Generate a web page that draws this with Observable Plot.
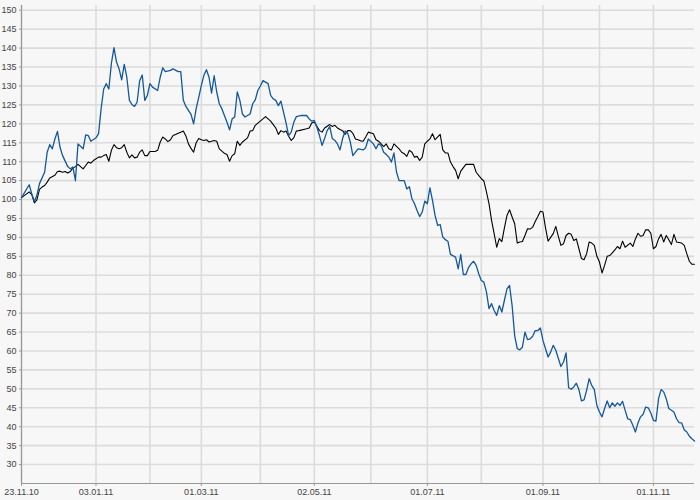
<!DOCTYPE html>
<html>
<head>
<meta charset="utf-8">
<script src="https://cdn.jsdelivr.net/npm/d3@7"></script>
<script src="https://cdn.jsdelivr.net/npm/@observablehq/plot@0.6"></script>
<style>
  html, body { margin: 0; padding: 0; background: #f7f7f7; }
  #chart svg { display: block; }
</style>
</head>
<body>
<div id="chart"></div>
<script>
// Trading-day index (weekdays since 23.11.10) and values
const blueDay = [0,3,4,5,6,7,9,10,11,12,13,14,15,16,18,19,20,21,22,24,25,26,27,29,30,31,32,33,34,35,36,37,38,39,40,41,42,43,44,45,46,47,48,49,50,51,53,54,55,56,58,59,61,62,63,64,66,67,68,69,70,71,72,73,74,75,76,77,78,80,81,82,83,84,85,86,87,89,90,91,92,93,94,96,97,98,99,100,101,102,103,104,105,106,107,109,111,112,113,114,115,116,117,118,119,120,121,122,123,124,125,126,127,128,129,131,133,134,135,137,138,139,140,141,142,143,144,145,146,147,149,150,151,152,153,154,155,156,157,158,159,160,161,162,163,164,165,166,167,169,170,171,172,173,174,175,176,177,178,179,180,181,182,183,184,185,186,187,188,189,190,191,192,193,194,195,196,197,198,199,200,201,202,203,204,205,206,207,208,209,210,211,212,213,214,215,216,217,218,219,220,221,222,223,224,225,226,227,228,229,230,231,232,233,234,235,236,237,238,239,240,241,242,243,244,245,246,247,248,249,250,251,252,254,255,256,257,258,259,260,261,262];
const blueVal = [100.5,103.9,101.5,99.5,101.1,104.2,107.2,112.5,114.5,113.4,116.0,118.0,113.8,111.6,108.7,108.1,108.6,105.0,114.7,113.4,117.1,116.9,115.4,116.3,117.4,124.0,129.2,130.6,129.2,136.0,140.1,136.3,134.5,131.6,135.7,132.3,126.2,125.1,124.6,125.7,131.4,132.9,126.2,127.5,130.6,129.7,128.8,132.3,134.8,133.8,134.1,134.5,133.8,133.8,126.2,124.6,122.5,120.0,124.0,127.0,130.1,132.8,134.3,132.3,128.1,132.7,128.4,125.3,124.0,120.4,118.4,121.3,121.8,128.4,126.2,122.6,121.8,122.6,125.3,126.3,128.8,130.0,131.4,130.6,127.5,126.6,126.2,124.8,126.0,123.1,120.2,116.9,117.8,120.4,121.9,122.2,122.2,121.3,120.7,120.9,119.1,116.9,114.3,116.1,118.2,119.3,116.1,115.6,114.7,113.1,116.1,118.1,117.5,115.2,111.6,113.4,113.1,113.7,116.0,114.7,113.4,114.7,114.3,112.5,111.9,111.2,109.9,112.3,107.2,105.0,105.0,102.8,103.4,100.2,98.9,97.1,95.5,96.7,99.6,98.9,103.1,99.8,95.8,93.2,93.4,90.1,89.4,89.0,85.5,84.8,81.7,85.5,80.2,80.2,82.0,83.0,83.7,82.6,80.4,78.6,78.2,75.6,71.2,72.5,70.7,69.4,72.0,70.3,73.4,76.4,77.3,72.0,64.0,60.6,60.3,61.0,65.0,63.0,63.2,63.9,65.4,65.4,66.1,62.8,60.6,58.4,59.7,61.5,60.2,58.0,55.9,57.1,59.5,50.3,49.9,50.5,51.5,49.8,46.8,47.1,49.6,52.7,50.9,49.8,45.6,43.9,42.6,44.8,46.8,45.0,46.3,45.4,46.3,45.6,46.7,44.3,42.1,41.9,40.4,38.6,41.0,42.6,43.3,45.2,45.0,43.6,41.7,41.5,47.4,49.8,49.2,47.4,44.8,43.9,42.1,41.1,41.0,39.2,38.6,37.5,36.8,36.2];

const blackDay = [0,2,3,4,5,6,7,8,9,10,11,13,14,15,16,17,18,19,20,21,22,23,24,25,26,27,28,30,31,32,33,34,35,36,37,38,39,40,41,42,43,44,45,46,47,48,49,50,52,53,54,55,56,57,58,59,60,61,62,63,64,65,66,67,68,69,70,71,72,73,75,76,77,79,80,81,82,83,84,85,86,88,89,90,91,92,94,95,96,97,98,99,100,101,102,103,104,105,106,107,108,111,112,113,114,116,117,118,120,121,122,123,124,125,126,127,128,129,130,131,132,133,134,135,137,138,139,140,141,142,143,144,145,147,148,149,150,151,152,153,154,155,156,157,158,159,160,161,163,164,165,166,167,168,169,170,171,173,176,177,179,180,181,182,183,184,185,186,187,188,189,190,191,192,193,194,195,196,197,198,199,200,201,202,203,204,205,206,207,208,209,210,211,212,213,214,215,216,217,218,219,220,221,222,223,224,225,226,227,228,229,230,231,232,233,234,235,237,238,239,240,241,242,243,244,245,246,247,248,249,250,251,252,253,254,255,257,258,259,260,261,262];
const blackVal = [100.5,101.5,102.0,101.3,99.1,99.9,102.7,103.3,103.7,104.6,105.7,106.4,107.4,107.5,107.2,107.4,107.0,107.4,108.3,108.7,109.3,108.7,108.1,109.0,109.9,109.6,110.3,111.2,111.2,111.6,111.9,110.1,113.0,114.5,113.7,113.4,113.7,114.5,112.5,111.0,111.8,111.0,111.2,112.5,113.1,111.6,111.6,112.7,112.7,113.0,115.2,116.5,116.0,115.3,115.8,116.9,117.2,117.5,117.8,118.1,116.8,114.7,113.5,112.5,115.0,116.1,115.8,115.6,115.8,115.2,115.6,115.4,113.4,112.2,111.9,110.1,111.6,112.1,115.4,114.3,115.2,116.3,118.1,118.2,119.6,120.2,121.3,121.9,121.3,120.7,119.8,118.9,117.2,118.2,117.8,118.1,116.7,115.6,116.3,118.1,118.2,118.7,118.9,120.2,120.5,118.2,117.8,118.9,119.8,119.3,119.6,118.9,118.5,118.2,117.2,118.2,118.2,117.5,116.0,115.8,115.5,115.4,116.5,117.8,117.4,115.8,115.4,114.7,114.0,114.7,113.4,113.1,114.7,113.4,112.5,112.1,111.4,113.0,112.5,111.2,111.4,110.3,111.2,114.7,115.4,116.0,117.4,115.8,117.2,113.1,112.3,112.3,109.9,108.7,107.7,105.5,107.5,109.3,109.3,107.2,105.5,104.9,102.0,98.9,94.5,91.0,87.4,89.7,88.9,92.5,95.8,97.3,95.4,93.6,88.5,88.8,88.9,90.5,92.3,92.2,92.7,94.2,95.5,96.9,96.7,92.5,89.0,90.0,91.0,92.9,90.3,87.9,88.3,90.5,91.1,90.8,89.2,89.6,87.0,84.4,84.1,85.7,88.8,88.5,87.9,85.0,83.5,80.6,82.6,85.0,85.2,85.9,86.7,87.6,87.0,89.0,87.4,88.5,87.6,89.6,91.1,90.3,90.5,92.0,92.0,91.1,87.0,87.6,89.6,90.8,88.8,90.5,89.4,88.1,90.8,88.8,88.5,87.9,85.7,83.7,82.9,82.9];

const yTicks = [30,35,40,45,50,55,60,65,70,75,80,85,90,95,100,105,110,115,120,125,130,135,140,145,150];
const monthDays = [0,29,50,70,93,114,136,158,179,203,225,246];
const tickDays = [0,29,70,114,158,203,246];
const tickLabels = ["23.11.10","03.01.11","01.03.11","02.05.11","01.07.11","01.09.11","01.11.11"];

const blue = blueDay.map((d, i) => ({day: d, value: blueVal[i]}));
const black = blackDay.map((d, i) => ({day: d, value: blackVal[i]}));

const chart = Plot.plot({
  width: 700,
  height: 500,
  marginLeft: 21,
  marginRight: 6,
  marginTop: 5,
  marginBottom: 17,
  style: {background: "#f7f7f7", fontFamily: "'Liberation Sans', Arial, sans-serif", fontSize: "9px", color: "#444"},
  x: {type: "linear", domain: [0, 262]},
  y: {domain: [25, 151.25]},
  marks: [
    Plot.gridY(yTicks, {stroke: "#dcdcdc", strokeOpacity: 1, strokeWidth: 1.6}),
    Plot.gridX(monthDays, {stroke: "#dcdcdc", strokeOpacity: 1, strokeWidth: 1.6}),
    Plot.axisY(yTicks, {tickSize: 2, tickPadding: 3, stroke: "#999", fill: "#444", label: null, tickFormat: d => String(d)}),
    Plot.axisX(tickDays, {tickSize: 3, tickPadding: 2, stroke: "#999", fill: "#444", label: null, tickFormat: d => tickLabels[tickDays.indexOf(d)]}),
    Plot.ruleX([0], {stroke: "#999", strokeWidth: 1.2}),
    Plot.ruleY([25], {stroke: "#999", strokeWidth: 1.2}),
    Plot.line(black, {x: "day", y: "value", stroke: "#000", strokeWidth: 1.1}),
    Plot.line(blue, {x: "day", y: "value", stroke: "#14589c", strokeWidth: 1.3})
  ]
});
document.getElementById("chart").appendChild(chart);
</script>
</body>
</html>
